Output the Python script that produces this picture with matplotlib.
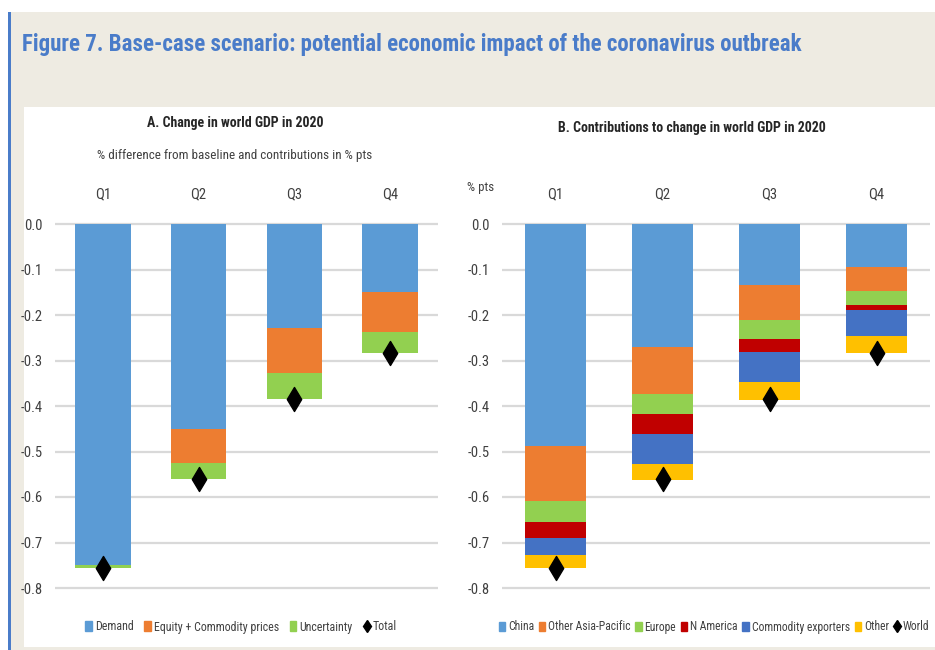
import matplotlib
matplotlib.use("Agg")
import matplotlib.pyplot as plt
from matplotlib import font_manager
from matplotlib.patches import Rectangle
from matplotlib.lines import Line2D
import numpy as np

# ---------------- data ----------------
quarters = ["Q1", "Q2", "Q3", "Q4"]

# Panel A: contributions (% pts)
a_series = ["Demand", "Equity + Commodity prices", "Uncertainty"]
demand = [-0.750, -0.451, -0.228, -0.150]
equity = [-0.000, -0.075, -0.099, -0.088]
uncertainty = [-0.005, -0.035, -0.058, -0.045]
a_total = [-0.755, -0.561, -0.385, -0.283]

# Panel B: regional contributions (% pts)
b_series = ["China", "Other Asia-Pacific", "Europe", "N America", "Commodity exporters", "Other"]
china = [-0.488, -0.270, -0.135, -0.095]
other_asia = [-0.120, -0.103, -0.076, -0.052]
europe = [-0.047, -0.045, -0.041, -0.031]
n_america = [-0.035, -0.044, -0.030, -0.011]
commodity = [-0.037, -0.065, -0.066, -0.057]
other = [-0.029, -0.035, -0.038, -0.037]
world = [-0.755, -0.561, -0.385, -0.284]

yticks = [0.0, -0.1, -0.2, -0.3, -0.4, -0.5, -0.6, -0.7, -0.8]

# ---------------- font: prefer a narrow / condensed face ----------------
FONT = None
STRETCH = "normal"
names = {f.name for f in font_manager.fontManager.ttflist}
for n in ["Liberation Sans Narrow", "Arial Narrow", "Roboto Condensed", "Open Sans Condensed"]:
    if n in names:
        FONT = n
        break
if FONT is None:
    for f in font_manager.fontManager.ttflist:
        if f.name in ("DejaVu Sans", "Noto Sans", "Open Sans", "Roboto") and \
                str(f.stretch) in ("condensed", "semi-condensed", "extra-condensed"):
            FONT = f.name
            STRETCH = "condensed"
            break
if FONT is None:
    FONT = "Liberation Sans"
plt.rcParams["font.family"] = [FONT, "DejaVu Sans"]
plt.rcParams["font.stretch"] = STRETCH

C_BLUE = "#5B9BD5"
C_ORANGE = "#ED7D31"
C_GREEN = "#92D050"
C_RED = "#C00000"
C_DBLUE = "#4472C4"
C_YELLOW = "#FFC000"
TXT = "#404040"
GRID = "#D9D9D9"

W, H = 935, 650
fig = plt.figure(figsize=(W / 100, H / 100), dpi=100)
fig.patch.set_facecolor("white")
renderer = fig.canvas.get_renderer()


def px_rect(x0, y0, x1, y1, **kw):
    fig.patches.append(Rectangle((x0 / W, 1 - y1 / H), (x1 - x0) / W, (y1 - y0) / H,
                                 transform=fig.transFigure, **kw))


def fit_text(xpx, ypx, s, target_w, max_size, **kw):
    t = fig.text(xpx / W, 1 - ypx / H, s, fontsize=max_size, **kw)
    w = t.get_window_extent(renderer).width
    if w > target_w:
        t.set_fontsize(max_size * target_w / w)
    return t


# beige background, blue rule, white panel
px_rect(10, 12, 935, 650, facecolor="#EEEBE2", edgecolor="none", zorder=-10)
px_rect(8, 12, 11, 650, facecolor="#4A7CC9", edgecolor="none", zorder=-9)
px_rect(24, 107, 935, 647, facecolor="white", edgecolor="none", zorder=-8)

fit_text(22, 45, "Figure 7. Base-case scenario: potential economic impact of the coronavirus outbreak",
         778, 22, fontweight="bold", color="#4A7CC9", va="center", ha="left")

# axes geometry: y=0 at px 224, 455 px per unit
YTOP, YBOT = 0.02, -0.85
top_px = 224 - YTOP * 455
bot_px = 224 - YBOT * 455


def make_ax(x0, x1):
    ax = fig.add_axes([x0 / W, 1 - bot_px / H, (x1 - x0) / W, (bot_px - top_px) / H])
    ax.set_xlim(-0.5, 3.5)
    ax.set_ylim(YBOT, YTOP)
    for s in ax.spines.values():
        s.set_visible(False)
    ax.set_yticks(yticks)
    ax.set_yticklabels([f"{v:.1f}" for v in yticks])
    ax.yaxis.grid(True, color=GRID, linewidth=1.6)
    ax.set_axisbelow(True)
    ax.tick_params(axis="y", length=0, pad=9, labelsize=10.5, labelcolor=TXT)
    ax.xaxis.tick_top()
    ax.set_xticks(range(len(quarters)))
    ax.set_xticklabels(quarters)
    ax.tick_params(axis="x", length=0, pad=10, labelsize=10.5, labelcolor=TXT)
    ax.set_facecolor("none")
    return ax


def fit_legend(ax, handles, labels, cx, target_w, size, ncol, colsp):
    leg = None
    for _ in range(3):
        if leg is not None:
            leg.remove()
        leg = ax.legend(handles, labels, loc="center", bbox_to_anchor=(cx / W, 1 - 627 / H),
                        bbox_transform=fig.transFigure, ncol=ncol, frameon=False, fontsize=size,
                        handlelength=0.55, handleheight=0.9, handletextpad=0.25,
                        columnspacing=colsp, labelcolor=TXT, borderpad=0, borderaxespad=0)
        w = leg.get_window_extent(renderer).width
        if w <= target_w * 1.01:
            break
        size = size * target_w / w
    return leg


x = np.arange(len(quarters))

# ---- Panel A ----
axA = make_ax(55, 438)
bw = 0.58
bottom = np.zeros(len(quarters))
for vals, col, lab in zip([demand, equity, uncertainty], [C_BLUE, C_ORANGE, C_GREEN], a_series):
    axA.bar(x, vals, bw, bottom=bottom, color=col, label=lab, zorder=2)
    bottom = bottom + np.array(vals)
axA.scatter(x, a_total, marker="d", s=150, color="black", zorder=3, label="Total")
fit_text(235, 123, "A. Change in world GDP in 2020", 176, 12,
         fontweight="bold", color="#262626", ha="center", va="center")
fit_text(235, 155, "% difference from baseline and contributions in % pts", 275, 11,
         color=TXT, ha="center", va="center")
hA = [Rectangle((0, 0), 1, 1, color=c) for c in [C_BLUE, C_ORANGE, C_GREEN]]
hA.append(Line2D([], [], marker="d", color="black", linestyle="none", markersize=6.5))
fit_legend(axA, hA, a_series + ["Total"], 241, 312, 11, 4, 0.9)

# ---- Panel B ----
axB = make_ax(502, 930)
bw = 0.57
bottom = np.zeros(len(quarters))
for vals, col, lab in zip([china, other_asia, europe, n_america, commodity, other],
                          [C_BLUE, C_ORANGE, C_GREEN, C_RED, C_DBLUE, C_YELLOW], b_series):
    axB.bar(x, vals, bw, bottom=bottom, color=col, label=lab, zorder=2)
    bottom = bottom + np.array(vals)
axB.scatter(x, world, marker="d", s=150, color="black", zorder=3, label="World")
fit_text(692, 128, "B. Contributions to change in world GDP in 2020", 269, 12,
         fontweight="bold", color="#262626", ha="center", va="center")
fit_text(481, 188, "% pts", 27, 10, color=TXT, ha="center", va="center")
hB = [Rectangle((0, 0), 1, 1, color=c) for c in
      [C_BLUE, C_ORANGE, C_GREEN, C_RED, C_DBLUE, C_YELLOW]]
hB.append(Line2D([], [], marker="d", color="black", linestyle="none", markersize=6.5))
fit_legend(axB, hB, b_series + ["World"], 714, 432, 11, 7, 0.4)

fig.savefig("out.png", dpi=100)
